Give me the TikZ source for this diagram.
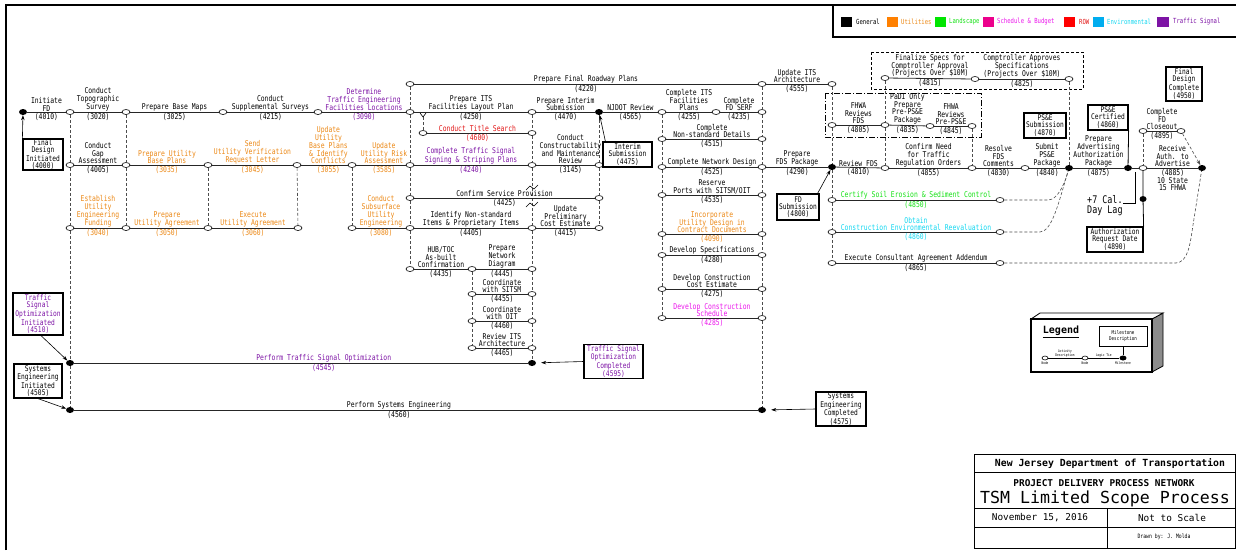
\documentclass[tikz,border=0pt]{standalone}
\usepackage{fontspec}
\setmainfont{DejaVu Sans Mono}[FakeStretch=0.8]
\newfontfamily\wideff{DejaVu Sans Mono}
\usetikzlibrary{shapes.geometric,arrows.meta}
\definecolor{cOr}{RGB}{235,135,20}
\definecolor{cPu}{RGB}{125,20,165}
\definecolor{cRe}{RGB}{225,20,20}
\definecolor{cGr}{RGB}{20,225,20}
\definecolor{cCy}{RGB}{20,215,240}
\definecolor{cMa}{RGB}{235,20,235}
\newcommand\fs{\fontsize{8}{7.8}\selectfont}
\newcommand\fsb{\fontsize{7.8}{7.2}\selectfont}
\newcommand\fsl{\fontsize{10.5}{10}\selectfont}
\newcommand\fsg{\fontsize{7}{7}\selectfont}
\newcommand\fst{\fontsize{5.2}{5.4}\selectfont}
\newcommand\fsx{\fontsize{3.6}{3.8}\selectfont}
\begin{document}
\begin{tikzpicture}[x=1pt,y=-1pt,
 o/.style={ellipse, draw=black, fill=white, line width=0.6pt, minimum width=8pt, minimum height=5pt, inner sep=0pt},
 ms/.style={ellipse, fill=black, minimum width=8pt, minimum height=6pt, inner sep=0pt},
 act/.style={draw=black!85, line width=0.8pt},
 tie/.style={draw=black!70, line width=0.6pt, dash pattern=on 3pt off 2pt},
 lbl/.style={font=\fs, align=center, inner sep=0.6pt, anchor=south},
 cod/.style={font=\fs, align=center, inner sep=0.8pt, anchor=north},
 mbox/.style={draw, line width=1.2pt, font=\fsb, align=center, inner sep=0.5pt},
 arr/.style={-{Stealth[length=5pt,width=3.5pt]}, line width=0.6pt}]
\useasboundingbox (0,0) rectangle (1236,550);
% frame
\draw[line width=1.2pt] (6,550) -- (6,5) -- (1236,5);
% legend bar
\draw[line width=1.2pt] (833,5) -- (833,37) -- (1236,37);
\fill[black] (841,17) rectangle (852,27); \node[font=\fsg,anchor=west,inner sep=0] (LGa) at (856,22) {General};
\fill[orange] (887,17) rectangle (898,27); \node[font=\fsg,anchor=west,inner sep=0,cOr] (LGb) at (901,22) {Utilities};
\fill[green!90!black] (935,17) rectangle (946,27); \node[font=\fsg,anchor=west,inner sep=0,cGr] (LGc) at (949,22) {Landscape};
\fill[magenta] (983,17) rectangle (994,27); \node[font=\fsg,anchor=west,inner sep=0,cMa] (LGd) at (997,22) {Schedule \& Budget};
\fill[red] (1064,17) rectangle (1075,27); \node[font=\fsg,anchor=west,inner sep=0,cRe] (LGe) at (1079,22) {ROW};
\fill[cyan] (1093,17) rectangle (1104,27); \node[font=\fsg,anchor=west,inner sep=0,cCy] (LGf) at (1107,22) {Environmental};
\fill[cPu] (1157,17) rectangle (1169,27); \node[font=\fsg,anchor=west,inner sep=0,cPu] (LGg) at (1173,22) {Traffic Signal};
% ---------- nodes ----------
\node[o] (a410) at (410,84) {};
\node[o] (a762) at (762,84) {};
\node[o] (a832) at (832,84) {};
\node[ms] (m23) at (23,112) {};
\node[o] (b70) at (70,112) {};
\node[o] (b126) at (126,112) {};
\node[o] (b223) at (223,112) {};
\node[o] (b318) at (318,112) {};
\node[o] (b410) at (410,112) {};
\node[o] (b532) at (532,112) {};
\node[ms] (m599) at (599,112) {};
\node[o] (b662) at (662,112) {};
\node[o] (b716) at (716,112) {};
\node[o] (b762) at (762,112) {};
\node[o] (t423) at (423,133) {};
\node[o] (t532) at (532,133) {};
\node[o] (c70) at (70,165) {};
\node[o] (c126) at (126,165) {};
\node[o] (c208) at (208,165) {};
\node[o] (c297) at (297,165) {};
\node[o] (c352) at (352,165) {};
\node[o] (c410) at (410,165) {};
\node[o] (c532) at (532,165) {};
\node[o] (c599) at (599,165) {};
\node[o] (c662) at (662,167) {};
\node[o] (c762) at (762,167) {};
\node[ms] (m832) at (832,167) {};
\node[o] (c885) at (885,168) {};
\node[o] (c972) at (972,168) {};
\node[o] (c1025) at (1025,168) {};
\node[ms] (m1069) at (1069,168) {};
\node[ms] (m1128) at (1128,168) {};
\node[o] (c1143) at (1143,168) {};
\node[ms] (m1202) at (1202,168) {};
\node[o] (d662) at (662,139) {};
\node[o] (d762) at (762,139) {};
\node[o] (s410) at (410,198) {};
\node[o] (s599) at (599,198) {};
\node[o] (p662) at (662,195) {};
\node[o] (p762) at (762,195) {};
\node[o] (e70) at (70,228) {};
\node[o] (e126) at (126,228) {};
\node[o] (e208) at (208,228) {};
\node[o] (e298) at (298,228) {};
\node[o] (e352) at (352,228) {};
\node[o] (e410) at (410,228) {};
\node[o] (e532) at (532,228) {};
\node[o] (e599) at (599,228) {};
\node[o] (f662) at (662,234) {};
\node[o] (f762) at (762,234) {};
\node[o] (g662) at (662,255) {};
\node[o] (g762) at (762,255) {};
\node[o] (h410) at (410,269) {};
\node[o] (h472) at (472,269) {};
\node[o] (h532) at (532,269) {};
\node[o] (i662) at (662,289) {};
\node[o] (i762) at (762,289) {};
\node[o] (j472) at (472,294) {};
\node[o] (j532) at (532,294) {};
\node[o] (k662) at (662,318) {};
\node[o] (k762) at (762,318) {};
\node[o] (l472) at (472,321) {};
\node[o] (l532) at (532,321) {};
\node[o] (r472) at (472,348) {};
\node[o] (r532) at (532,348) {};
\node[ms] (m532) at (532,363) {};
\node[ms] (m70a) at (70,363) {};
\node[ms] (m70b) at (70,410) {};
\node[ms] (m762) at (762,410) {};
\node[o] (q832) at (832,125) {};
\node[o] (q885) at (885,125) {};
\node[o] (q930) at (930,126) {};
\node[o] (q973) at (972,126) {};
\node[o] (u885) at (885,78) {};
\node[o] (u975) at (975,79) {};
\node[o] (u1069) at (1069,79) {};
\node[o] (v832) at (832,200) {};
\node[o] (v1000) at (1000,200) {};
\node[o] (w832) at (832,232) {};
\node[o] (w1000) at (1000,232) {};
\node[o] (x832) at (832,263) {};
\node[o] (x1000) at (1000,263) {};
\node[o] (y1143) at (1143,131) {};
\node[o] (y1181) at (1181,131) {};
\node[ms, minimum width=7pt, minimum height=6pt] (m1143) at (1143,199) {};
% ---------- groups ----------
\draw[line width=0.7pt, dash pattern=on 6pt off 2pt on 1pt off 2pt] (825,93) rectangle (981,137);
\draw[line width=0.7pt, dash pattern=on 3pt off 2pt] (871,52) rectangle (1083,89);
% ---------- logic ties ----------
\draw[tie] (b70)--(c70)--(e70)--(m70a)--(m70b);
\draw[tie] (b126)--(c126)--(e126);
\draw[tie] (c208)--(e208);
\draw[tie] (c297)--(e298);
\draw[tie] (c352)--(e352);
\draw[tie] (a410)--(b410)--(c410)--(s410)--(e410)--(h410);
\draw[tie] (423,117)--(t423);
\draw[line width=0.6pt] (420,113)--(423,117)--(426,113);
\draw[tie] (b532)--(t532)--(c532)--(e532)--(h532)--(j532)--(l532)--(r532)--(m532);
\draw[line width=0.6pt] (526,190)--(530,186)--(534,189)--(538,185);
\draw[line width=0.6pt] (526,207)--(530,203)--(534,206)--(538,202);
\draw[tie] (h472)--(j472)--(l472)--(r472);
\draw[tie] (m599)--(c599)--(s599)--(e599);
\draw[tie] (b662)--(d662)--(c662)--(p662)--(f662)--(g662)--(i662)--(k662);
\draw[tie] (a762)--(b762)--(d762)--(c762)--(p762)--(f762)--(g762)--(i762)--(k762)--(m762);
\draw[tie] (a832)--(q832)--(m832)--(v832)--(w832)--(x832);
\draw[tie] (u885)--(q885)--(c885);
\draw[tie] (q973)--(c972);
\draw[tie] (u1069)--(m1069);
\draw[tie] (y1143)--(c1143);
\draw[tie] (v1000) -- (1048,200) .. controls (1057,200) and (1064,186) .. (m1069);
\draw[tie] (w1000) -- (1040,232) .. controls (1052,231) and (1058,205) .. (m1069);
\draw[tie] (x1000) -- (1176,263) .. controls (1188,262) and (1190,245) .. (1193,225) -- (m1202);
\draw[tie, -{Stealth[length=5pt,width=3.5pt]}] (y1181) -- (m1202);
% ---------- activities ----------
\draw[act] (a410) -- node[lbl]{Prepare Final Roadway Plans} node[cod]{(4220)} (a762);
\draw[act] (a762) -- node[lbl]{Update ITS\\Architecture} node[cod]{(4555)} (a832);
\draw[act] (m23) -- node[lbl]{Initiate\\FD} node[cod]{(4010)} (b70);
\draw[act] (b70) -- node[lbl]{Conduct\\Topographic\\Survey} node[cod]{(3020)} (b126);
\draw[act] (b126) -- node[lbl]{Prepare Base Maps} node[cod]{(3025)} (b223);
\draw[act] (b223) -- node[lbl]{Conduct\\Supplemental Surveys} node[cod]{(4215)} (b318);
\draw[act] (b318) -- node[lbl,cPu]{Determine\\Traffic Engineering\\Facilities Locations} node[cod,cPu]{(3090)} (b410);
\draw[act] (b410) -- node[lbl]{Prepare ITS\\Facilities Layout Plan} node[cod]{(4250)} (b532);
\draw[act] (b532) -- node[lbl]{Prepare Interim\\Submission} node[cod]{(4470)} (m599);
\draw[act] (m599) -- node[lbl]{NJDOT Review} node[cod]{(4565)} (b662);
\draw[act] (b662) -- node[lbl]{Complete ITS\\Facilities\\Plans} node[cod]{(4255)} (b716);
\draw[act] (b716) -- node[lbl]{Complete\\FD SERF} node[cod]{(4235)} (b762);
\draw[act] (t423) -- node[lbl,cRe]{Conduct Title Search} node[cod,cRe]{(4600)} (t532);
\draw[act] (c70) -- node[lbl]{Conduct\\Gap\\Assessment} node[cod]{(4005)} (c126);
\draw[act] (c126) -- node[lbl,cOr]{Prepare Utility\\Base Plans} node[cod,cOr]{(3035)} (c208);
\draw[act] (c208) -- node[lbl,cOr]{Send\\Utility Verification\\Request Letter} node[cod,cOr]{(3045)} (c297);
\draw[act] (c297) -- node[lbl,cOr,xshift=4pt]{Update\\Utility\\Base Plans\\\& Identify\\Conflicts} node[cod,cOr,xshift=4pt]{(3055)} (c352);
\draw[act] (c352) -- node[lbl,cOr,xshift=3pt]{Update\\Utility Risk\\Assessment} node[cod,cOr,xshift=3pt]{(3585)} (c410);
\draw[act] (c410) -- node[lbl,cPu]{Complete Traffic Signal\\Signing \& Striping Plans} node[cod,cPu]{(4240)} (c532);
\draw[act] (c532) -- node[lbl,xshift=5pt]{Conduct\\Constructability\\and Maintenance\\Review} node[cod,xshift=5pt]{(3145)} (c599);
\draw[act] (c662) -- node[lbl]{Complete Network Design} node[cod]{(4525)} (c762);
\draw[act] (c762) -- node[lbl]{Prepare\\FDS Package} node[cod]{(4290)} (m832);
\draw[act] (m832) -- node[lbl]{Review FDS} node[cod]{(4810)} (c885);
\draw[act] (c885) -- node[lbl]{Confirm Need\\for Traffic\\Regulation Orders} node[cod]{(4855)} (c972);
\draw[act] (c972) -- node[lbl]{Resolve\\FDS\\Comments} node[cod]{(4830)} (c1025);
\draw[act] (c1025) -- node[lbl]{Submit\\PS\&E\\Package} node[cod]{(4840)} (m1069);
\draw[act] (m1069) -- node[lbl]{Prepare\\Advertising\\Authorization\\Package} node[cod]{(4875)} (m1128);
\draw[act] (m1128) -- (c1143);
\draw[act] (c1143) -- node[lbl]{Receive\\Auth. to\\Advertise} node[cod]{(4885)\\10 State\\15 FHWA} (m1202);
\draw[act] (d662) -- node[lbl]{Complete\\Non-standard Details} node[cod]{(4515)} (d762);
\draw[act] (s410) -- node[lbl]{Confirm Service Provision} node[cod]{(4425)} (s599);
\draw[act] (p662) -- node[lbl]{Reserve\\Ports with SITSM/OIT} node[cod]{(4535)} (p762);
\draw[act] (e70) -- node[lbl,cOr]{Establish\\Utility\\Engineering\\Funding} node[cod,cOr]{(3040)} (e126);
\draw[act] (e126) -- node[lbl,cOr]{Prepare\\Utility Agreement} node[cod,cOr]{(3050)} (e208);
\draw[act] (e208) -- node[lbl,cOr]{Execute\\Utility Agreement} node[cod,cOr]{(3060)} (e298);
\draw[act] (e352) -- node[lbl,cOr]{Conduct\\Subsurface\\Utility\\Engineering} node[cod,cOr]{(3080)} (e410);
\draw[act] (e410) -- node[lbl]{Identify Non-standard\\Items \& Proprietary Items} node[cod]{(4405)} (e532);
\draw[act] (e532) -- node[lbl]{Update\\Preliminary\\Cost Estimate} node[cod]{(4415)} (e599);
\draw[act] (f662) -- node[lbl,cOr]{Incorporate\\Utility Design in\\Contract Documents} node[cod,cOr]{(4090)} (f762);
\draw[act] (g662) -- node[lbl]{Develop Specifications} node[cod]{(4280)} (g762);
\draw[act] (h410) -- node[lbl]{HUB/TOC\\As-built\\Confirmation} node[cod]{(4435)} (h472);
\draw[act] (h472) -- node[lbl]{Prepare\\Network\\Diagram} node[cod]{(4445)} (h532);
\draw[act] (i662) -- node[lbl]{Develop Construction\\Cost Estimate} node[cod]{(4275)} (i762);
\draw[act] (j472) -- node[lbl]{Coordinate\\with SITSM} node[cod]{(4455)} (j532);
\draw[act] (k662) -- node[lbl,cMa]{Develop Construction\\Schedule} node[cod,cMa]{(4285)} (k762);
\draw[act] (l472) -- node[lbl]{Coordinate\\with OIT} node[cod]{(4460)} (l532);
\draw[act] (r472) -- node[lbl]{Review ITS\\Architecture} node[cod]{(4465)} (r532);
\draw[act] (m70a) -- node[lbl,cPu,pos=0.55]{Perform Traffic Signal Optimization} node[cod,cPu,pos=0.55]{(4545)} (m532);
\draw[act] (m70b) -- node[lbl,pos=0.475]{Perform Systems Engineering} node[cod,pos=0.475]{(4560)} (m762);
\draw[act] (q832) -- node[lbl]{FHWA\\Reviews\\FDS} node[cod]{(4805)} (q885);
\draw[act] (q885) -- node[lbl]{PaDI Only\\Prepare\\Pre-PS\&E\\Package} node[cod]{(4835)} (q930);
\draw[act] (q930) -- node[lbl]{FHWA\\Reviews\\Pre-PS\&E} node[cod]{(4845)} (q973);
\draw[act] (u885) -- node[lbl]{Finalize Specs for\\Comptroller Approval\\(Projects Over \$10M)} node[cod]{(4815)} (u975);
\draw[act] (u975) -- node[lbl]{Comptroller Approves\\Specifications\\(Projects Over \$10M)} node[cod]{(4825)} (u1069);
\draw[act] (v832) -- node[lbl,cGr]{Certify Soil Erosion \& Sediment Control} node[cod,cGr]{(4850)} (v1000);
\draw[act] (w832) -- node[lbl,cCy]{Obtain\\Construction Environmental Reevaluation} node[cod,cCy]{(4860)} (w1000);
\draw[act] (x832) -- node[lbl]{Execute Consultant Agreement Addendum} node[cod]{(4865)} (x1000);
\draw[act] (y1143) -- node[lbl]{Complete\\FD\\Closeout} node[cod]{(4895)} (y1181);
% ---------- milestone boxes ----------
\node[mbox, minimum width=40pt, minimum height=29pt] (B4000) at (43,154.5) {Final\\Design\\Initiated\\(4000)};
\node[mbox, minimum width=50pt, minimum height=42pt, cPu, draw=black] (B4510) at (38,314) {Traffic\\Signal\\Optimization\\Initiated\\(4510)};
\node[mbox, minimum width=48pt, minimum height=34pt] (B4505) at (38,381) {Systems\\Engineering\\Initiated\\(4505)};
\node[mbox, minimum width=49pt, minimum height=25pt] (B4475) at (627.5,154.5) {Interim\\Submission\\(4475)};
\node[mbox, minimum width=42pt, minimum height=26pt] (B4800) at (798,207) {FD\\Submission\\(4800)};
\node[mbox, minimum width=59pt, minimum height=33pt, cPu, draw=black] (B4595) at (613.5,361.5) {Traffic Signal\\Optimization\\Completed\\(4595)};
\node[mbox, minimum width=50pt, minimum height=34pt] (B4575) at (841,409) {Systems\\Engineering\\Completed\\(4575)};
\node[mbox, minimum width=42pt, minimum height=25pt] (B4870) at (1045,125.5) {PS\&E\\Submission\\(4870)};
\node[mbox, minimum width=40pt, minimum height=25pt] (B4860) at (1108,117.5) {PS\&E\\Certified\\(4860)};
\node[mbox, minimum width=36pt, minimum height=34pt] (B4950) at (1184,84) {Final\\Design\\Complete\\(4950)};
\node[mbox, minimum width=56pt, minimum height=25pt] (B4890) at (1115,239.5) {Authorization\\Request Date\\(4890)};
% ---------- milestone connectors ----------
\draw[arr] (B4000.north west) -- (m23);
\draw[arr] ([xshift=3pt]B4510.south) -- (m70a);
\draw[arr] (B4505.south) -- (m70b);
\draw[arr] ([xshift=3pt]B4475.north west) -- (m599);
\draw[arr] ([xshift=-2pt]B4800.north east) -- (m832);
\draw[arr, shorten >=5pt] (B4595.west) -- (m532);
\draw[arr, shorten >=5pt] (B4575.west) -- (m762);
\draw[line width=0.8pt] (B4860.south east) -- (m1128);
\draw[line width=0.8pt] (B4890.north east) -- (m1143) -- (c1143);
% lag
\node[font=\fsl, anchor=north west, align=left, inner sep=0] (LAG) at (1087,195) {+7 Cal.\\Day Lag};
\draw[line width=0.7pt] (1123,203) -- (1135,203) -- (1135,172);
% ---------- 3D legend box ----------
\draw[line width=0.8pt, fill=black!45] (1152,319) -- (1163,313) -- (1163,366) -- (1152,372) -- cycle;
\draw[line width=0.8pt, fill=white] (1031,319) -- (1040,313) -- (1163,313) -- (1152,319) -- cycle;
\draw[line width=1.2pt, fill=white] (1031,319) rectangle (1152,372);
\node[font=\wideff\bfseries\fontsize{10}{10}\selectfont, inner sep=0] (LGT) at (1061,332) {\underline{Legend}};
\node[draw, line width=0.8pt, font=\fst, align=center, minimum width=48pt, minimum height=20pt, inner sep=0] (LM) at (1123,336) {Milestone\\Description};
\node[o, minimum width=6pt, minimum height=4pt] (LN1) at (1045,358) {};
\node[o, minimum width=6pt, minimum height=4pt] (LN2) at (1085,358) {};
\node[ms, minimum width=7pt, minimum height=5pt] (LD) at (1123,358) {};
\draw[line width=0.6pt] (LN1) -- node[font=\fsx, align=center, anchor=south, inner sep=0.5pt]{Activity\\Description} (LN2);
\draw[line width=0.6pt] (LN2) -- node[font=\fsx, anchor=south, inner sep=0.5pt]{Logic Tie} (LD);
\draw[line width=0.6pt] (LM) -- (LD);
\node[font=\fsx, anchor=north, inner sep=0] (LL1) at (1045,362) {Node};
\node[font=\fsx, anchor=north, inner sep=0] (LL2) at (1085,362) {Node};
\node[font=\fsx, anchor=north, inner sep=0] (LL3) at (1123,362) {Milestone};
% ---------- title block ----------
\draw[line width=1pt] (974,454) rectangle (1235,548);
\draw[line width=0.8pt] (974,472) -- (1235,472);
\draw[line width=0.8pt] (974,508) -- (1235,508);
\draw[line width=0.8pt] (974,527) -- (1235,527);
\draw[line width=0.8pt] (1107,508) -- (1107,548);
\node[font=\wideff\bfseries\fontsize{9.8}{10}\selectfont, inner sep=0] (T1) at (1110,463.5) {New Jersey Department of Transportation};
\node[font=\wideff\bfseries\fontsize{9.4}{10}\selectfont, inner sep=0] (T2) at (1104,483) {PROJECT DELIVERY PROCESS NETWORK};
\node[font=\wideff\fontsize{16.6}{17}\selectfont, inner sep=0] (T3) at (1105,499) {TSM Limited Scope Process};
\node[font=\wideff\fontsize{9.4}{10}\selectfont, inner sep=0] (T4) at (1040,518) {November 15, 2016};
\node[font=\wideff\fontsize{9.4}{10}\selectfont, inner sep=0] (T5) at (1172,518) {Not to Scale};
\node[font=\fsx\fontsize{6}{6}\selectfont, inner sep=0] (T6) at (1164,537) {Drawn by: J. Molda};
\end{tikzpicture}
\end{document}
